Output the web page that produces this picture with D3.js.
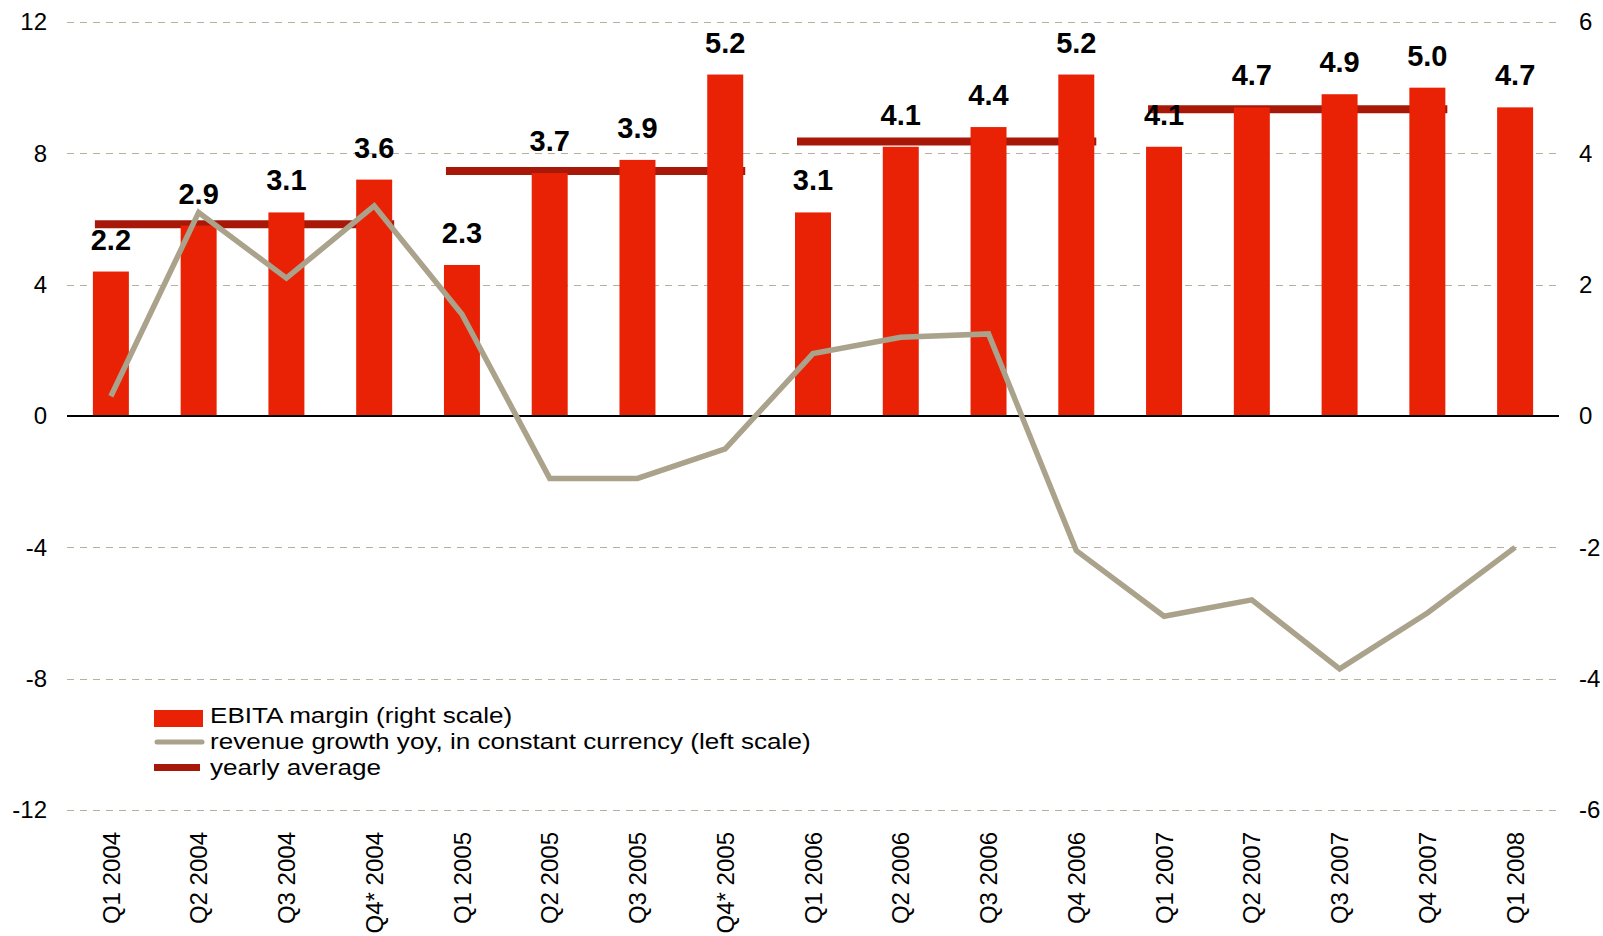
<!DOCTYPE html>
<meta charset="utf-8">
<script src="https://d3js.org/d3.v7.min.js"></script>
<style>
    body { margin: 0; background: #fff; }
    text { font-family: "Liberation Sans", Arial, sans-serif; fill: #000; }
</style>
<div id="chart"></div>

<script>

    const categories = ["Q1 2004", "Q2 2004", "Q3 2004", "Q4* 2004", "Q1 2005", "Q2 2005", "Q3 2005", "Q4* 2005",
        "Q1 2006", "Q2 2006", "Q3 2006", "Q4 2006", "Q1 2007", "Q2 2007", "Q3 2007", "Q4 2007", "Q1 2008"];
    const ebitaMargin = [2.2, 2.9, 3.1, 3.6, 2.3, 3.7, 3.9, 5.2, 3.1, 4.1, 4.4, 5.2, 4.1, 4.7, 4.9, 5.0, 4.7];
    const revenueGrowth = [0.6, 6.2, 4.2, 6.4, 3.1, -1.9, -1.9, -1.0, 1.9, 2.4, 2.5, -4.1, -6.1, -5.6, -7.7, -6.0, -4.0];
    const avgStart = ["Q1 2004", "Q1 2005", "Q1 2006", "Q1 2007"];
    const avgEnd = ["Q4* 2004", "Q4* 2005", "Q4 2006", "Q4 2007"];
    const avgValue = [2.92, 3.73, 4.18, 4.67];
    const leftTicks = [-12, -8, -4, 0, 4, 8, 12];
    const rightTicks = [-6, -4, -2, 0, 2, 4, 6];
    const legendLabels = ["EBITA margin (right scale)", "revenue growth yoy, in constant currency (left scale)", "yearly average"];

    const W = 1603, H = 936;
    const margin = {top: 22, right: 44, bottom: 126, left: 67};
    const width = W - margin.left - margin.right,
        height = H - margin.top - margin.bottom;

    const red = "#e92205", darkRed = "#a81808", grey = "#aba28c";

    const svg = d3.select("#chart")
        .append("svg")
        .attr("width", W)
        .attr("height", H)
        .append("g")
        .attr("transform", `translate(${margin.left}, ${margin.top})`);

    const x = d3.scaleBand()
        .domain(categories)
        .range([0, width])
        .paddingInner(0.59)
        .paddingOuter(0.295);
    const yL = d3.scaleLinear().domain([-12, 12]).range([height, 0]);
    const yR = d3.scaleLinear().domain([-6, 6]).range([height, 0]);
    const cx = d => x(d) + x.bandwidth() / 2;
    const fmt = d => String(d); // plain hyphen minus, like the original

    // dashed grid
    svg.append("g")
        .selectAll("line")
        .data(leftTicks.filter(d => d !== 0))
        .join("line")
        .attr("x1", 0).attr("x2", width)
        .attr("y1", d => Math.round(yL(d)) + 0.5).attr("y2", d => Math.round(yL(d)) + 0.5)
        .attr("stroke", "#b8b09c")
        .attr("stroke-width", 1)
        .attr("stroke-dasharray", "7,6");

    // axes (labels only)
    const axL = svg.append("g")
        .call(d3.axisLeft(yL).tickValues(leftTicks).tickFormat(fmt).tickSize(0).tickPadding(20));
    const axR = svg.append("g")
        .attr("transform", `translate(${width}, 0)`)
        .call(d3.axisRight(yR).tickValues(rightTicks).tickFormat(fmt).tickSize(0).tickPadding(20));
    [axL, axR].forEach(a => {
        a.select(".domain").remove();
        a.selectAll("text").style("font-size", "24px").attr("font-family", null).attr("fill", "#000");
    });

    // yearly averages (behind bars)
    svg.append("g")
        .selectAll("line")
        .data(avgValue)
        .join("line")
        .attr("x1", (d, i) => x(avgStart[i]) + 2)
        .attr("x2", (d, i) => x(avgEnd[i]) + x.bandwidth() + 2)
        .attr("y1", d => yR(d)).attr("y2", d => yR(d))
        .attr("stroke", darkRed)
        .attr("stroke-width", 8);

    // bars
    svg.append("g")
        .selectAll("rect")
        .data(ebitaMargin)
        .join("rect")
        .attr("x", (d, i) => x(categories[i]))
        .attr("width", x.bandwidth())
        .attr("y", d => yR(d))
        .attr("height", d => yR(0) - yR(d))
        .attr("fill", red);

    // zero line
    svg.append("line")
        .attr("x1", 0).attr("x2", width)
        .attr("y1", yL(0)).attr("y2", yL(0))
        .attr("stroke", "#000")
        .attr("stroke-width", 1.5)
        .attr("shape-rendering", "crispEdges");

    // revenue growth line
    const line = d3.line()
        .x((d, i) => cx(categories[i]))
        .y(d => yL(d));
    svg.append("path")
        .datum(revenueGrowth)
        .attr("d", line)
        .attr("fill", "none")
        .attr("stroke", grey)
        .attr("stroke-width", 5.5)
        .attr("stroke-linejoin", "miter");

    // bar value labels
    svg.append("g")
        .selectAll("text")
        .data(ebitaMargin)
        .join("text")
        .attr("x", (d, i) => cx(categories[i]))
        .attr("y", d => yR(d) - 22)
        .attr("text-anchor", "middle")
        .style("font-size", "29px")
        .style("font-weight", "bold")
        .text(d => d.toFixed(1));

    // category labels
    svg.append("g")
        .selectAll("text")
        .data(categories)
        .join("text")
        .attr("transform", d => `translate(${cx(d)}, ${height + 22}) rotate(-90)`)
        .attr("text-anchor", "end")
        .attr("dy", "0.36em")
        .style("font-size", "24px")
        .text(d => d);

    // legend
    const legend = svg.append("g")
        .attr("transform", `translate(${154 - margin.left}, ${710 - margin.top})`);
    legend.append("rect")
        .attr("x", 0).attr("y", 0).attr("width", 49).attr("height", 17)
        .attr("fill", red);
    legend.append("line")
        .attr("x1", 3).attr("x2", 48).attr("y1", 32).attr("y2", 32)
        .attr("stroke", grey).attr("stroke-width", 5).attr("stroke-linecap", "round");
    legend.append("rect")
        .attr("x", 0).attr("y", 54).attr("width", 46).attr("height", 7)
        .attr("fill", darkRed);
    legend.append("g")
        .attr("transform", "translate(56, 0) scale(1.185, 1)")
        .selectAll("text")
        .data(legendLabels)
        .join("text")
        .attr("x", 0)
        .attr("y", (d, i) => 13 + i * 26)
        .style("font-size", "22px")
        .text(d => d);

</script>
